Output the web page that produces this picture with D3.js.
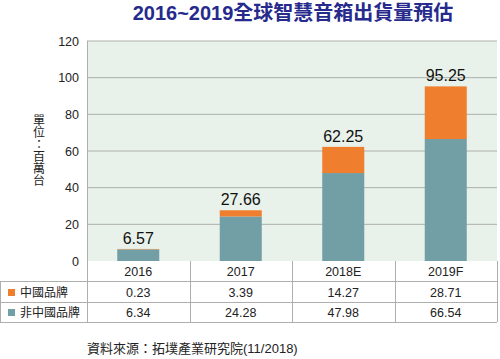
<!DOCTYPE html>
<html><head><meta charset="utf-8">
<script src="https://cdn.jsdelivr.net/npm/d3@7"></script>
<style>body{margin:0;background:#fff}svg{display:block}</style>
</head><body>
<svg id="c" width="500" height="359"></svg>
<script>
const categories = ["2016","2017","2018E","2019F"];
const chinaBrands = [0.23,3.39,14.27,28.71];
const nonChinaBrands = [6.34,24.28,47.98,66.54];
const totals = [6.57,27.66,62.25,95.25];
const yTicks = [0,20,40,60,80,100,120];
const seriesNames = ["中國品牌","非中國品牌"];
const colors = {china:"#ef7f2f", non:"#729fa6"};

const svg = d3.select("#c");
const L=87, R=497, T=41, B=261;
const font = "'Liberation Sans', Arial, 'Noto Sans CJK TC', sans-serif";
const x = d3.scaleBand().domain(categories).range([L,R]).paddingInner(0.59).paddingOuter(0.295);
const y = d3.scaleLinear().domain([0,120]).range([B,T]);

// title
svg.append("text").attr("x",293).attr("y",20).attr("text-anchor","middle")
 .attr("font-family",font).attr("font-weight","bold")
 .attr("font-size",20).attr("fill","#262a8c").text("2016~2019全球智慧音箱出貨量預估");

// plot bg
svg.append("rect").attr("x",L).attr("y",T).attr("width",R-L).attr("height",B-T).attr("fill","#e9f2ea");
// grid
svg.append("g").selectAll("line").data(yTicks.filter(d=>d>0)).join("line")
 .attr("x1",L).attr("x2",R).attr("y1",d=>y(d)).attr("y2",d=>y(d)).attr("stroke","#aeafac").attr("stroke-width",1);
// left axis line
svg.append("line").attr("x1",L+0.5).attr("x2",L+0.5).attr("y1",T).attr("y2",B).attr("stroke","#aeafac");
// y tick labels
const yAxis = d3.axisLeft(y).tickValues(yTicks).tickSize(0).tickPadding(8);
const ga = svg.append("g").attr("transform",`translate(${L},0)`).call(yAxis);
ga.select(".domain").remove();
ga.selectAll("text").attr("font-family",font).attr("font-size",12.5).attr("fill","#222").attr("x",-8);

// y label vertical
svg.append("text").attr("x",39).attr("y",150).attr("text-anchor","middle")
 .style("writing-mode","vertical-rl")
 .attr("font-family","'Noto Sans CJK TC', sans-serif").attr("font-size",12).attr("fill","#222").text("單位：百萬台");

// bars
const g = svg.append("g");
categories.forEach((c,i)=>{
  g.append("rect").attr("x",x(c)).attr("width",x.bandwidth())
   .attr("y",y(nonChinaBrands[i])).attr("height",y(0)-y(nonChinaBrands[i])).attr("fill",colors.non);
  g.append("rect").attr("x",x(c)).attr("width",x.bandwidth())
   .attr("y",y(nonChinaBrands[i]+chinaBrands[i])).attr("height",y(0)-y(chinaBrands[i])).attr("fill",colors.china);
  g.append("text").attr("x",x(c)+x.bandwidth()/2).attr("y",y(nonChinaBrands[i]+chinaBrands[i])-5)
   .attr("text-anchor","middle").attr("font-family",font).attr("font-size",16).attr("fill","#111").text(totals[i].toFixed(2));
});

// table
const colW = (R-L)/categories.length;
const rowY = [261,281,302,322];
const line = (x1,y1,x2,y2)=>svg.append("line").attr("x1",x1).attr("y1",y1).attr("x2",x2).attr("y2",y2).attr("stroke","#aeafac").attr("stroke-width",1);
line(0,rowY[1]+0.5,R,rowY[1]+0.5);
line(0,rowY[2]+0.5,R,rowY[2]+0.5);
line(0,rowY[3]+0.5,R,rowY[3]+0.5);
line(0.5,rowY[1],0.5,rowY[3]);
for(let k=0;k<=categories.length;k++){ const xx=Math.round(L+k*colW)+0.5; line(xx,rowY[0],xx,rowY[3]); }
categories.forEach((c,i)=>{
  const cx = L+colW*(i+0.5);
  svg.append("text").attr("x",cx).attr("y",276).attr("text-anchor","middle").attr("font-family",font).attr("font-size",12.5).attr("fill","#222").text(c);
  svg.append("text").attr("x",cx).attr("y",297).attr("text-anchor","middle").attr("font-family",font).attr("font-size",12.5).attr("fill","#222").text(chinaBrands[i].toFixed(2));
  svg.append("text").attr("x",cx).attr("y",317).attr("text-anchor","middle").attr("font-family",font).attr("font-size",12.5).attr("fill","#222").text(nonChinaBrands[i].toFixed(2));
});
[[colors.china,seriesNames[0],289],[colors.non,seriesNames[1],309]].forEach(([col,name,yy])=>{
  svg.append("rect").attr("x",8).attr("y",yy).attr("width",7).attr("height",7).attr("fill",col);
  svg.append("text").attr("x",20).attr("y",yy+8).attr("font-family","'Noto Sans CJK TC', sans-serif").attr("font-size",12).attr("fill","#222").text(name);
});

// source
svg.append("text").attr("x",87).attr("y",353).attr("font-family",font).attr("font-size",13).attr("fill","#222").text("資料來源：拓墣產業研究院(11/2018)");
</script>
</body></html>
